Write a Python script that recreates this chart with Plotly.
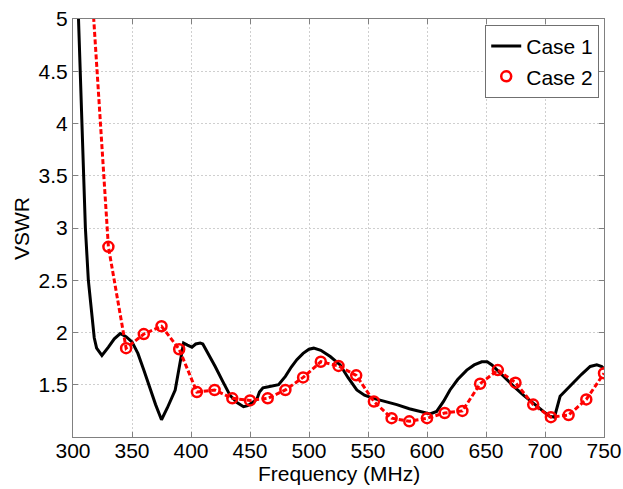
import plotly.graph_objects as go

# Case 1 (solid black)
case1_freq = [300, 305, 308, 310.5, 313, 315, 318, 320, 324.5, 330, 335, 340, 345, 350,
              355, 360, 365, 370, 375, 380, 386.6, 390, 393.7, 397, 400.8, 404, 407.8,
              410, 415, 420.5, 427, 433, 439, 444.5, 448, 452, 455.8, 458, 461, 465.7,
              470, 474.2, 480, 485, 489.7, 495, 500, 504, 510, 515, 518, 526.4, 533,
              540.5, 547, 554.6, 565, 574.4, 585, 595, 602.6, 608.2, 614, 619.5, 626,
              633.7, 640, 646.4, 651, 655, 664.7, 673, 681.7, 690, 698.6, 704, 708,
              712.8, 718, 724.1, 731, 738.3, 743.9, 748.1, 750]
case1_vswr = [6.6, 4.9, 3.9, 3.0, 2.5, 2.26, 1.95, 1.85, 1.78, 1.86, 1.94, 1.99, 1.96, 1.91,
              1.80, 1.64, 1.47, 1.31, 1.165, 1.28, 1.45, 1.65, 1.90, 1.88, 1.86, 1.89, 1.90,
              1.89, 1.79, 1.675, 1.53, 1.40, 1.33, 1.29, 1.30, 1.33, 1.36, 1.43, 1.47, 1.48,
              1.49, 1.50, 1.58, 1.67, 1.74, 1.80, 1.84, 1.85, 1.83, 1.79, 1.77, 1.69, 1.57,
              1.45, 1.40, 1.37, 1.34, 1.31, 1.27, 1.24, 1.22, 1.245, 1.34, 1.45, 1.55,
              1.64, 1.69, 1.72, 1.72, 1.69, 1.58, 1.49, 1.40, 1.32, 1.245, 1.20, 1.19,
              1.39, 1.45, 1.53, 1.60, 1.675, 1.69, 1.675, 1.65]

# Case 2 (red dashed with circles)
case2_freq = [315, 330, 345, 360, 375, 390, 405, 420, 435, 450, 465, 480, 495, 510, 525,
              540, 555, 570, 585, 600, 615, 630, 645, 660, 675, 690, 705, 720, 735, 750]
case2_vswr = [5.45, 2.82, 1.85, 1.985, 2.06, 1.84, 1.43, 1.45, 1.37, 1.35, 1.37, 1.45, 1.57,
              1.72, 1.68, 1.59, 1.34, 1.18, 1.15, 1.18, 1.23, 1.25, 1.51, 1.64, 1.52, 1.31,
              1.19, 1.21, 1.36, 1.61]

x_ticks = [300, 350, 400, 450, 500, 550, 600, 650, 700, 750]
y_ticks = [1.5, 2, 2.5, 3, 3.5, 4, 4.5, 5]
x_title = "Frequency (MHz)"
y_title = "VSWR"

FONT = "Arial, 'Liberation Sans', sans-serif"
FS = 21

fig = go.Figure()
fig.add_trace(go.Scatter(x=case1_freq, y=case1_vswr, mode="lines", name="Case 1",
                         line=dict(color="black", width=3)))
fig.add_trace(go.Scatter(x=case2_freq, y=case2_vswr, mode="lines", showlegend=False,
                         line=dict(color="#ff0000", width=3, dash="5px,2.5px")))
fig.add_trace(go.Scatter(x=case2_freq, y=case2_vswr, mode="markers", name="Case 2",
                         marker=dict(symbol="circle-open", color="#ff0000", size=10,
                                     line=dict(color="#ff0000", width=2.5))))

axis_common = dict(showline=True, linecolor="#808080", linewidth=1, mirror="ticks",
                   ticks="inside", ticklen=5, tickcolor="#808080", automargin=False,
                   showgrid=True, gridcolor="#cfcfcf", gridwidth=1, griddash="2px,2px",
                   zeroline=False, tickfont=dict(family=FONT, size=FS, color="black"))

fig.update_xaxes(range=[300, 750], tickvals=x_ticks, ticklabelstandoff=-5, **axis_common)
fig.update_yaxes(range=[1, 5], tickvals=y_ticks, ticktext=[str(v) for v in y_ticks],
                 **axis_common)

fig.add_annotation(text=x_title, xref="paper", yref="paper", x=0.5, y=-0.088,
                   xanchor="center", yanchor="middle", showarrow=False,
                   font=dict(family=FONT, size=FS, color="black"))
fig.add_annotation(text=y_title, xref="paper", yref="paper", x=-0.098, y=0.5,
                   xanchor="center", yanchor="middle", showarrow=False, textangle=-90,
                   font=dict(family=FONT, size=FS, color="black"))

fig.update_layout(
    width=623, height=489, autosize=False,
    margin=dict(l=73, r=19, t=19, b=52, pad=0, autoexpand=False),
    paper_bgcolor="white", plot_bgcolor="white",
    font=dict(family=FONT, size=FS, color="black"),
    legend=dict(x=0.991, y=0.986, xanchor="right", yanchor="top",
                bgcolor="white", bordercolor="#707070", borderwidth=1,
                font=dict(family=FONT, size=FS, color="black"),
                itemwidth=30, tracegroupgap=0),
    showlegend=True,
)

fig.write_html("out.html", config={"displayModeBar": False, "responsive": False},
               post_script="document.body.style.margin='0';document.body.style.overflow='hidden';")
